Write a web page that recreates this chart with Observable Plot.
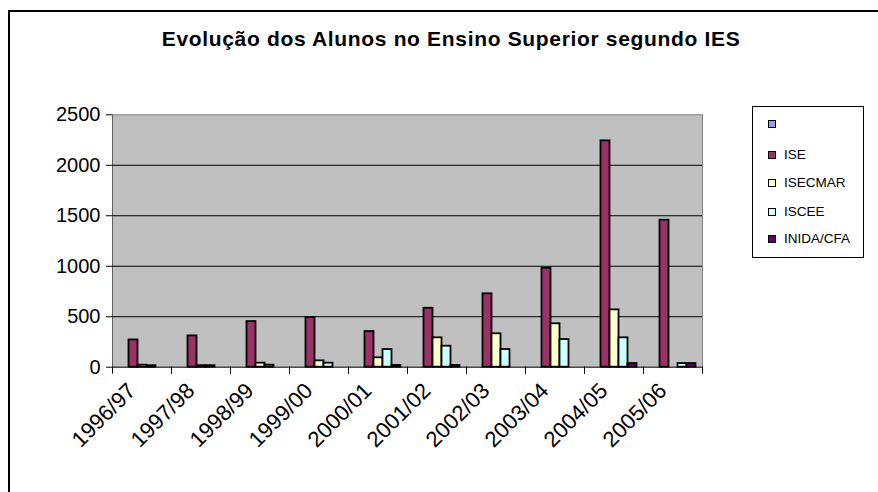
<!DOCTYPE html>
<html><head><meta charset="utf-8">
<script src="https://cdn.jsdelivr.net/npm/d3@7"></script>
<script src="https://cdn.jsdelivr.net/npm/@observablehq/plot@0.6"></script>
<style>
body{margin:0;background:#fff;font-family:"Liberation Sans",Arial,sans-serif;}
#wrap{position:relative;width:878px;height:492px;overflow:hidden;background:#fff;}
#outer{position:absolute;left:8px;top:10px;width:1000px;height:1000px;border-left:2px solid #000;border-top:2px solid #000;}
#title{position:absolute;left:0;top:0;}
#chart{position:absolute;left:0;top:60px;}
#legend{position:absolute;left:752px;top:106px;width:112px;height:152px;border:1px solid #000;box-sizing:border-box;background:#fff;}
.item{position:absolute;left:15px;height:16px;font-size:13.5px;line-height:16px;white-space:nowrap;}
.sw{position:absolute;left:0;top:4px;width:6px;height:6px;border:1px solid #000;}
.lab{position:absolute;left:16px;top:0;}
</style></head>
<body><div id="wrap"><div id="outer"></div>
<svg id="title" width="878" height="60"><text x="161.7" y="45.7" font-family="Liberation Sans, Arial, sans-serif" font-weight="bold" font-size="21" textLength="578" lengthAdjust="spacing">Evolução dos Alunos no Ensino Superior segundo IES</text></svg>
<div id="chart"></div><div id="legend"></div></div>
<script>
const years = ["1996/97","1997/98","1998/99","1999/00","2000/01","2001/02","2002/03","2003/04","2004/05","2005/06"];
const series = ["", "ISE", "ISECMAR", "ISCEE", "INIDA/CFA"];
const colors = ["#9999FF", "#993366", "#FFFFCC", "#CCFFFF", "#660066"];
const blank   = [null, null, null, null, null, null, null, null, null, null];
const ise     = [270, 310, 452, 492, 353, 584, 727, 980, 2242, 1456];
const isecmar = [20, 15, 40, 63, 93, 291, 331, 430, 568, null];
const iscee   = [15, 15, 20, 40, 175, 208, 175, 274, 291, 36];
const inida   = [null, null, null, null, 17, 17, null, null, 36, 36];
const yTicks  = [0, 500, 1000, 1500, 2000, 2500];

const valuesBySeries = [blank, ise, isecmar, iscee, inida];
const rows = [];
years.forEach((yr, i) => series.forEach((s, j) => {
  const v = valuesBySeries[j][i];
  if (v != null) rows.push({year: yr, series: s, value: v});
}));

const W = 878, H = 420;
const mL = 108.5, mR = 878 - 704.5, mT = 54.3, mB = 113.3;
const plotH = H - mT - mB;

const chart = Plot.plot({
  width: W, height: H,
  marginLeft: mL, marginRight: mR, marginTop: mT, marginBottom: mB,
  style: {fontFamily: "Liberation Sans, Arial, sans-serif", fontSize: "20px", color: "#000", background: "transparent", overflow: "visible"},
  fx: {domain: years, padding: 0},
  x: {domain: series, paddingInner: 0, paddingOuter: 0.7, axis: null},
  y: {domain: [0, 2500], ticks: yTicks, tickFormat: d3.format("d"), label: null, tickSize: 6, tickPadding: 6, line: true},
  color: {domain: series, range: colors},
  marks: [
    Plot.frame({fill: "#C0C0C0", stroke: "none", facet: "super"}),
    Plot.gridY(yTicks.filter(v => v > 0 && v < 2500), {stroke: "#000", strokeOpacity: 1}),
    Plot.frame({anchor: "top", stroke: "#808080", facet: "super"}),
    Plot.frame({anchor: "right", stroke: "#808080", facet: "super"}),
    Plot.barY(rows, {fx: "year", x: "series", y: "value", fill: "series", stroke: "#000", strokeWidth: 1.8}),
    Plot.ruleY([0], {stroke: "#000", strokeWidth: 1}),
    Plot.frame({anchor: "left", insetTop: plotH, insetBottom: -6, stroke: "#000"}),
    Plot.frame({anchor: "right", insetTop: plotH, insetBottom: -6, stroke: "#000"}),
    Plot.axisFx({anchor: "bottom", tickSize: 0, tickRotate: -45, tickPadding: 20, dx: -10, label: null, fontSize: 22})
  ]
});
document.getElementById("chart").appendChild(chart);

const legend = document.getElementById("legend");
const itemTops = [9, 40, 68, 97, 124];
series.forEach((s, j) => {
  const it = document.createElement("div");
  it.className = "item";
  it.style.top = itemTops[j] + "px";
  it.innerHTML = `<span class="sw" style="background:${colors[j]}"></span><span class="lab">${s}</span>`;
  legend.appendChild(it);
});
</script></body></html>
